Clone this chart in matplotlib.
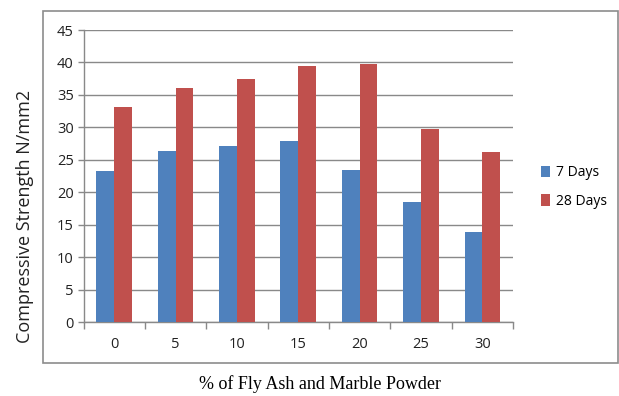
import numpy as np
import matplotlib.pyplot as plt
from matplotlib.patches import Rectangle

# replacement level (%) and compressive strength (N/mm2)
replacement = ['0', '5', '10', '15', '20', '25', '30']
days_7 = [23.2, 26.4, 27.1, 27.9, 23.4, 18.5, 13.9]
days_28 = [33.2, 36.0, 37.5, 39.4, 39.7, 29.8, 26.2]

blue = '#4F81BD'
red = '#C0504D'
grid_col = '#898989'

fig = plt.figure(figsize=(6.19, 3.96), dpi=100)

# outer chart frame
fig.patches.append(Rectangle((43 / 619, 33 / 396), 575 / 619, 352 / 396,
                             transform=fig.transFigure, fill=False,
                             edgecolor='#8c8c8c', lw=1.2))

ax = fig.add_axes([83.5 / 619, 74 / 396, 429.5 / 619, 292 / 396])

x = np.arange(len(replacement))
w = 0.29
ax.bar(x - w / 2, days_7, w, color=blue, label='7 Days', zorder=3)
ax.bar(x + w / 2, days_28, w, color=red, label='28 Days', zorder=3)

ax.set_xlim(-0.5, len(replacement) - 0.5)
ax.set_ylim(0, 45)
ax.set_yticks(range(0, 46, 5))
ax.yaxis.grid(True, color=grid_col, lw=1, zorder=0)

ax.set_xticks(x)
ax.set_xticklabels(replacement)
ax.set_xticks(np.arange(-0.5, len(replacement)), minor=True)
ax.tick_params(axis='x', which='major', length=0, pad=11)
ax.tick_params(axis='x', which='minor', length=5, color=grid_col, width=1)
ax.tick_params(axis='y', length=4, color=grid_col, width=1, pad=3)
ax.tick_params(labelsize=10.5, labelcolor='#222222')
for lab in ax.get_xticklabels() + ax.get_yticklabels():
    lab.set_fontfamily('Open Sans')

for side in ['top', 'right']:
    ax.spines[side].set_visible(False)
for side in ['left', 'bottom']:
    ax.spines[side].set_color(grid_col)
    ax.spines[side].set_linewidth(1)

ax.legend(loc='center left', bbox_to_anchor=(528 / 619, 209 / 396),
          bbox_transform=fig.transFigure, frameon=False,
          handlelength=0.7, handleheight=0.9, handletextpad=0.4,
          labelspacing=1.0, prop={'family': 'Open Sans', 'size': 10})

fig.text(25 / 619, 180 / 396, 'Compressive Strength N/mm2', rotation=90,
         ha='center', va='center', fontsize=13, family='Open Sans',
         color='#222222')
fig.text(320 / 619, 12 / 396, '% of Fly Ash and Marble Powder',
         ha='center', va='center', fontsize=13, family='Liberation Serif')

fig.savefig('out.png', dpi=100)
